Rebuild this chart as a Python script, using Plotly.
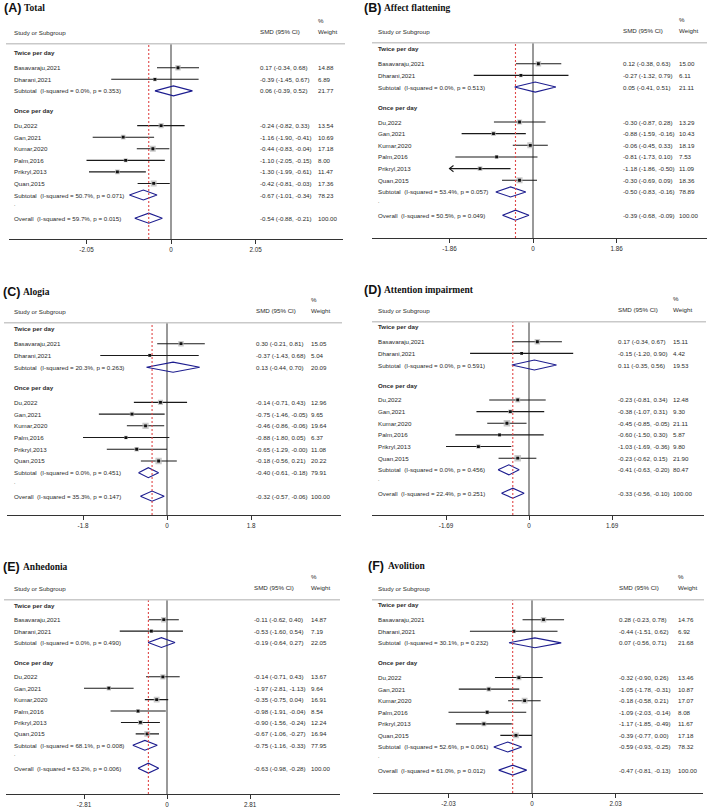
import plotly.graph_objects as go

FIG_W, FIG_H = 709, 808

# ---------------- data ----------------
studies_twice = ["Basavaraju,2021", "Dharani,2021"]
studies_once = ["Du,2022", "Gan,2021", "Kumar,2020", "Palm,2016", "Prikryl,2013", "Quan,2015"]
group_labels = ["Twice per day", "Once per day"]
panel_letters = ["(A)", "(B)", "(C)", "(D)", "(E)", "(F)"]
panel_names = ["Total", "Affect flattening", "Alogia", "Attention impairment", "Anhedonia", "Avolition"]
tick_limits = [2.05, 1.86, 1.8, 1.69, 2.81, 2.03]

# study order: studies_twice + studies_once
A_smd = [0.17, -0.39, -0.24, -1.16, -0.44, -1.10, -1.30, -0.42]
A_lo = [-0.34, -1.45, -0.82, -1.90, -0.83, -2.05, -1.99, -0.81]
A_hi = [0.68, 0.67, 0.33, -0.41, -0.04, -0.15, -0.61, -0.03]
A_w = [14.88, 6.89, 13.54, 10.69, 17.18, 8.00, 11.47, 17.36]
# pooled rows: subtotal twice, subtotal once, overall
A_pool_smd = [0.06, -0.67, -0.54]
A_pool_lo = [-0.39, -1.01, -0.88]
A_pool_hi = [0.52, -0.34, -0.21]
A_pool_w = [21.77, 78.23, 100.00]
A_i2 = [0.0, 50.7, 59.7]
A_p = ["0.353", "0.071", "0.015"]

B_smd = [0.12, -0.27, -0.30, -0.88, -0.06, -0.81, -1.18, -0.30]
B_lo = [-0.38, -1.32, -0.87, -1.59, -0.45, -1.73, -1.86, -0.69]
B_hi = [0.63, 0.79, 0.28, -0.16, 0.33, 0.10, -0.50, 0.09]
B_w = [15.00, 6.11, 13.29, 10.43, 18.19, 7.53, 11.09, 18.36]
B_pool_smd = [0.05, -0.50, -0.39]
B_pool_lo = [-0.41, -0.83, -0.68]
B_pool_hi = [0.51, -0.16, -0.09]
B_pool_w = [21.11, 78.89, 100.00]
B_i2 = [0.0, 53.4, 50.5]
B_p = ["0.513", "0.057", "0.049"]
B_clipped_left = ["Prikryl,2013"]

C_smd = [0.30, -0.37, -0.14, -0.75, -0.46, -0.88, -0.65, -0.18]
C_lo = [-0.21, -1.43, -0.71, -1.46, -0.86, -1.80, -1.29, -0.56]
C_hi = [0.81, 0.68, 0.43, -0.05, -0.06, 0.05, -0.00, 0.21]
C_w = [15.05, 5.04, 12.96, 9.65, 19.64, 6.37, 11.08, 20.22]
C_pool_smd = [0.13, -0.40, -0.32]
C_pool_lo = [-0.44, -0.61, -0.57]
C_pool_hi = [0.70, -0.18, -0.06]
C_pool_w = [20.09, 79.91, 100.00]
C_i2 = [20.3, 0.0, 35.3]
C_p = ["0.263", "0.451", "0.147"]

D_smd = [0.17, -0.15, -0.23, -0.38, -0.45, -0.60, -1.03, -0.23]
D_lo = [-0.34, -1.20, -0.81, -1.07, -0.85, -1.50, -1.69, -0.62]
D_hi = [0.67, 0.90, 0.34, 0.31, -0.05, 0.30, -0.36, 0.15]
D_w = [15.11, 4.42, 12.48, 9.30, 21.11, 5.87, 9.80, 21.90]
D_pool_smd = [0.11, -0.41, -0.33]
D_pool_lo = [-0.35, -0.63, -0.56]
D_pool_hi = [0.56, -0.20, -0.10]
D_pool_w = [19.53, 80.47, 100.00]
D_i2 = [0.0, 0.0, 22.4]
D_p = ["0.591", "0.456", "0.251"]

E_smd = [-0.11, -0.53, -0.14, -1.97, -0.35, -0.98, -0.90, -0.67]
E_lo = [-0.62, -1.60, -0.71, -2.81, -0.75, -1.91, -1.56, -1.06]
E_hi = [0.40, 0.54, 0.43, -1.13, 0.04, -0.04, -0.24, -0.27]
E_w = [14.87, 7.19, 13.67, 9.64, 16.91, 8.54, 12.24, 16.94]
E_pool_smd = [-0.19, -0.75, -0.63]
E_pool_lo = [-0.64, -1.16, -0.98]
E_pool_hi = [0.27, -0.33, -0.28]
E_pool_w = [22.05, 77.95, 100.00]
E_i2 = [0.0, 68.1, 63.2]
E_p = ["0.490", "0.008", "0.006"]

F_smd = [0.28, -0.44, -0.32, -1.05, -0.18, -1.09, -1.17, -0.39]
F_lo = [-0.23, -1.51, -0.90, -1.78, -0.58, -2.03, -1.85, -0.77]
F_hi = [0.78, 0.62, 0.26, -0.31, 0.21, -0.14, -0.49, 0.00]
F_w = [14.76, 6.92, 13.46, 10.87, 17.07, 8.08, 11.67, 17.18]
F_pool_smd = [0.07, -0.59, -0.47]
F_pool_lo = [-0.56, -0.93, -0.81]
F_pool_hi = [0.71, -0.25, -0.13]
F_pool_w = [21.68, 78.32, 100.00]
F_i2 = [30.1, 52.6, 61.0]
F_p = ["0.232", "0.061", "0.012"]

panel_data = [
    (A_smd, A_lo, A_hi, A_w, A_pool_smd, A_pool_lo, A_pool_hi, A_pool_w, A_i2, A_p, []),
    (B_smd, B_lo, B_hi, B_w, B_pool_smd, B_pool_lo, B_pool_hi, B_pool_w, B_i2, B_p, B_clipped_left),
    (C_smd, C_lo, C_hi, C_w, C_pool_smd, C_pool_lo, C_pool_hi, C_pool_w, C_i2, C_p, []),
    (D_smd, D_lo, D_hi, D_w, D_pool_smd, D_pool_lo, D_pool_hi, D_pool_w, D_i2, D_p, []),
    (E_smd, E_lo, E_hi, E_w, E_pool_smd, E_pool_lo, E_pool_hi, E_pool_w, E_i2, E_p, []),
    (F_smd, F_lo, F_hi, F_w, F_pool_smd, F_pool_lo, F_pool_hi, F_pool_w, F_i2, F_p, []),
]

# ---------------- geometry (pixels in the 709x808 page) ----------------
# L,R: axis line ends; Z: x of zero; T: px from zero to tick; Hl: header rule; Xl: axis line
# b, o: rows of first study and of overall; lab/smd/wt: text columns; tx,ty: title; hx0,hx1: rule ends
geom = [
    dict(L=9, R=343, Z=171, T=84.5, Hl=44, Xl=240, b=68, o=219, lab=12, smd=258, wt=316, tx=2, ty=8, hx0=6, hx1=345),
    dict(L=372, R=707, Z=533, T=83.5, Hl=43, Xl=239, b=64, o=216, lab=376, smd=621, wt=677, tx=362, ty=8, hx0=372, hx1=707),
    dict(L=7, R=341, Z=167, T=84, Hl=324, Xl=517, b=345, o=498, lab=12, smd=254, wt=309, tx=1, ty=293, hx0=4, hx1=342),
    dict(L=372, R=704, Z=529, T=83, Hl=323, Xl=517, b=343, o=495, lab=376, smd=616, wt=671, tx=362, ty=291, hx0=372, hx1=706),
    dict(L=6, R=340, Z=167, T=83, Hl=602, Xl=797, b=622, o=771, lab=12, smd=252, wt=309, tx=1, ty=569, hx0=4, hx1=340),
    dict(L=373, R=703, Z=532, T=83.5, Hl=602, Xl=796, b=622, o=773, lab=376, smd=617, wt=676, tx=366, ty=568, hx0=372, hx1=704),
]

TXT = "#2b2b2b"
FONT = "Liberation Sans, Arial, sans-serif"
FS = 6.2

study_rows = [1, 2, 6, 7, 8, 9, 10, 11]
pool_rows = [3, 12, 14]
header_rows = [0, 5]


def px(x):
    return x / FIG_W


def py(y):
    return 1 - y / FIG_H


fig = go.Figure()
layout = dict(
    width=FIG_W, height=FIG_H, margin=dict(l=0, r=0, t=0, b=0),
    paper_bgcolor="white", plot_bgcolor="rgba(0,0,0,0)", showlegend=False,
    font=dict(family=FONT, size=FS, color=TXT),
)
shapes = []
annotations = []

for i, (g, d) in enumerate(zip(geom, panel_data)):
    smd, lo, hi, w, psmd, plo, phi, pw, i2, pval, clipped = d
    s = tick_limits[i]
    n = "" if i == 0 else str(i + 1)
    xname, yname = "x" + n, "y" + n
    sp = (g["o"] - g["b"]) / 13.0
    row0 = g["b"] - sp
    top_row = (g["Hl"] - row0) / sp
    bot_row = (g["Xl"] - row0) / sp
    scale = g["T"] / s  # px per unit

    layout["xaxis" + n] = dict(
        domain=[px(g["L"]), px(g["R"])],
        range=[(g["L"] - g["Z"]) / scale, (g["R"] - g["Z"]) / scale],
        anchor=yname, showline=True, linecolor="#333", linewidth=1,
        ticks="outside", ticklen=4, tickcolor="#333", tickwidth=1,
        tickvals=[-s, 0, s], ticktext=["-" + str(s), "0", str(s)],
        tickfont=dict(size=6.3, color=TXT, family=FONT),
        showgrid=False, zeroline=False, fixedrange=True,
    )
    layout["yaxis" + n] = dict(
        domain=[py(g["Xl"]), py(g["Hl"])], range=[bot_row, top_row],
        anchor=xname, visible=False, showgrid=False, zeroline=False, fixedrange=True,
    )

    names = studies_twice + studies_once

    # CI lines
    cx, cy = [], []
    for j, r in enumerate(study_rows):
        cx += [lo[j], hi[j], None]
        cy += [r, r, None]
    fig.add_trace(go.Scatter(x=cx, y=cy, mode="lines", xaxis=xname, yaxis=yname,
                             line=dict(color="#1a1a1a", width=1.1), hoverinfo="skip"))
    # arrows for CIs clipped at the axis limit
    ax, ay = [], []
    for j, r in enumerate(study_rows):
        if names[j] in clipped:
            dx = 4.0 / scale
            ax += [lo[j] + dx, lo[j], lo[j] + dx, None]
            ay += [r - 0.27, r, r + 0.27, None]
    if ax:
        fig.add_trace(go.Scatter(x=ax, y=ay, mode="lines", xaxis=xname, yaxis=yname,
                                 line=dict(color="#1a1a1a", width=1.1), hoverinfo="skip"))
    # weight boxes
    fig.add_trace(go.Scatter(x=smd, y=study_rows, mode="markers", xaxis=xname, yaxis=yname,
                             marker=dict(symbol="square", color="#b3b3b3",
                                         size=[1.42 * (wi ** 0.5) for wi in w], line=dict(width=0)),
                             hoverinfo="skip"))
    # point estimates
    fig.add_trace(go.Scatter(x=smd, y=study_rows, mode="markers", xaxis=xname, yaxis=yname,
                             marker=dict(symbol="square", color="#111", size=2.8, line=dict(width=0)),
                             hoverinfo="skip"))
    # diamonds
    dx_, dy_ = [], []
    for k, r in enumerate(pool_rows):
        dx_ += [plo[k], psmd[k], phi[k], psmd[k], plo[k], None]
        dy_ += [r, r - 0.43, r, r + 0.43, r, None]
    fig.add_trace(go.Scatter(x=dx_, y=dy_, mode="lines", xaxis=xname, yaxis=yname,
                             line=dict(color="#1d1d8f", width=1.1), hoverinfo="skip"))

    # zero line and overall dashed line
    shapes.append(dict(type="line", xref=xname, yref=yname + " domain", x0=0, x1=0, y0=0, y1=1,
                       line=dict(color="#555", width=1.2), layer="below"))
    shapes.append(dict(type="line", xref=xname, yref=yname + " domain", x0=psmd[2], x1=psmd[2],
                       y0=0, y1=1, line=dict(color="#e04848", width=1.1, dash="2px,2px"), layer="above"))
    # header rule
    shapes.append(dict(type="line", xref="paper", yref="paper", x0=px(g["hx0"]), x1=px(g["hx1"]),
                       y0=py(g["Hl"]), y1=py(g["Hl"]), line=dict(color="#c9c9c9", width=1.5)))

    def ann(text, x, y, yref="paper", size=FS, **kw):
        annotations.append(dict(text=text, x=x, y=y, xref="paper", yref=yref, showarrow=False,
                                xanchor="left", yanchor="middle", font=dict(size=size, color=TXT, family=FONT),
                                **kw))

    # titles
    annotations.append(dict(text="<b>" + panel_letters[i] + "</b>", x=px(g["tx"]), y=py(g["ty"]),
                            xref="paper", yref="paper", showarrow=False, xanchor="left", yanchor="middle",
                            font=dict(size=12.5, color="#111", family="Liberation Sans, Arial, sans-serif")))
    annotations.append(dict(text="<b>" + panel_names[i] + "</b>", x=px(g["tx"] + 20), y=py(g["ty"] + 0.5),
                            xref="paper", yref="paper", showarrow=False, xanchor="left", yanchor="middle",
                            font=dict(size=9.5, color="#111", family="Liberation Serif, Times New Roman, serif")))
    # column headers
    ann("Study or Subgroup", px(g["lab"]), py(g["Hl"] - 11))
    ann("SMD (95% CI)", px(g["smd"]), py(g["Hl"] - 12))
    ann("Weight", px(g["wt"]), py(g["Hl"] - 12))
    ann("%", px(g["wt"]), py(g["Hl"] - 23))

    # group headers
    for gl, r in zip(group_labels, header_rows):
        ann("<b>" + gl + "</b>", px(g["lab"]), r - 0.28, yref=yname)
    # study rows
    for j, r in enumerate(study_rows):
        ann(names[j], px(g["lab"]), r, yref=yname)
        ann(f"{smd[j]:.2f} ({lo[j]:.2f}, {hi[j]:.2f})", px(g["smd"]), r, yref=yname)
        ann(f"{w[j]:.2f}", px(g["wt"]), r, yref=yname)
    pool_names = ["Subtotal", "Subtotal", "Overall"]
    for k, r in enumerate(pool_rows):
        ann(f"{pool_names[k]}  (I-squared = {i2[k]:.1f}%, p = {pval[k]})", px(g["lab"]), r, yref=yname)
        ann(f"{psmd[k]:.2f} ({plo[k]:.2f}, {phi[k]:.2f})", px(g["smd"]), r, yref=yname)
        ann(f"{pw[k]:.2f}", px(g["wt"]), r, yref=yname)
    ann(".", px(g["lab"]), 13 - 0.2, yref=yname, size=5)

layout["shapes"] = shapes
layout["annotations"] = annotations
fig.update_layout(**layout)

fig.write_html("out.html", config={"displayModeBar": False},
               post_script="document.body.style.margin='0';document.body.style.overflow='hidden';")
